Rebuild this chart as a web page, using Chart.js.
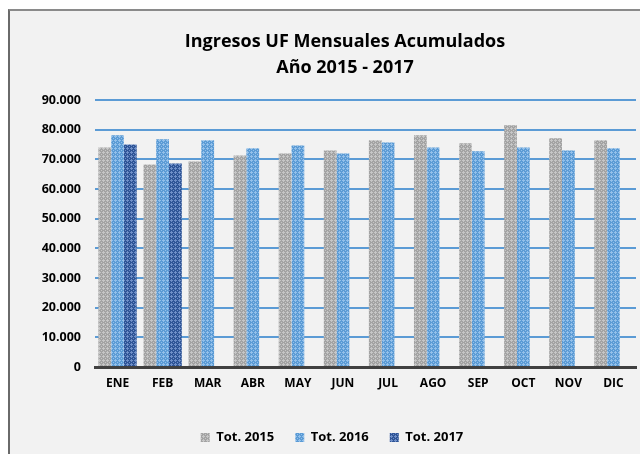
<!DOCTYPE html>
<html>
<head>
<meta charset="utf-8">
<title>Ingresos UF Mensuales Acumulados</title>
<script src="https://cdn.jsdelivr.net/npm/chart.js"></script>
<style>
  html, body { margin: 0; padding: 0; background: #ffffff; overflow: hidden; }
  .frame {
    position: absolute; left: 8px; top: 9px;
    width: 640px; height: 450px;
    border-top: 2px solid #8a8a8a; border-left: 2px solid #6a6a6a;
    background: #f2f2f2;
  }
  #chart { position: absolute; left: 0; top: 0; }
</style>
</head>
<body>
<div class="frame">
  <canvas id="chart" width="630" height="443"></canvas>
</div>
<script>
const months = ['ENE', 'FEB', 'MAR', 'ABR', 'MAY', 'JUN', 'JUL', 'AGO', 'SEP', 'OCT', 'NOV', 'DIC'];
const tot2015 = [74000, 68300, 69300, 71300, 72000, 73000, 76400, 78100, 75400, 81500, 77100, 76400];
const tot2016 = [78100, 76800, 76400, 73700, 74700, 72000, 75700, 74000, 72700, 74000, 73000, 73700];
const tot2017 = [75000, 68600, null, null, null, null, null, null, null, null, null, null];
const yTicks = [0, 10000, 20000, 30000, 40000, 50000, 60000, 70000, 80000, 90000];
const titleLines = ['Ingresos UF Mensuales Acumulados', 'Año 2015 - 2017'];

// dotted fill like the original bars
function makePattern(base, dot) {
  const c = document.createElement('canvas');
  c.width = 4; c.height = 4;
  const g = c.getContext('2d');
  g.fillStyle = base;
  g.fillRect(0, 0, 4, 4);
  g.fillStyle = dot;
  g.fillRect(1, 0, 1, 1);
  g.fillRect(0, 1, 3, 1);
  g.fillRect(1, 2, 1, 1);
  g.fillRect(3, 3, 1, 1);
  return g.createPattern(c, 'repeat');
}

const fill2015 = makePattern('#a3a3a3', '#c6c6c6');
const fill2016 = makePattern('#5b9bd5', '#93c0ea');
const fill2017 = makePattern('#2f5597', '#6f8fc8');

// title and legend sit a bit right of the canvas centre in the original
const offsetPlugin = {
  id: 'offsetTitle',
  afterLayout(chart) {
    chart.legend.left += 9;
    chart.legend.right += 9;
  },
  afterDraw(chart) {
    const ctx = chart.ctx;
    ctx.save();
    ctx.font = 'bold 18px "Open Sans", sans-serif';
    ctx.fillStyle = '#000';
    ctx.textAlign = 'center';
    ctx.textBaseline = 'middle';
    ctx.fillText(titleLines[0], 335, 31);
    ctx.fillText(titleLines[1], 335, 57);
    ctx.restore();
  }
};

new Chart(document.getElementById('chart'), {
  type: 'bar',
  data: {
    labels: months,
    datasets: [
      { label: 'Tot. 2015', data: tot2015, backgroundColor: fill2015 },
      { label: 'Tot. 2016', data: tot2016, backgroundColor: fill2016 },
      { label: 'Tot. 2017', data: tot2017, backgroundColor: fill2017 }
    ]
  },
  plugins: [offsetPlugin],
  options: {
    responsive: false,
    animation: false,
    categoryPercentage: 0.85,
    barPercentage: 1,
    layout: { padding: { left: 0, right: 4, top: 89, bottom: 0 } },
    scales: {
      x: {
        grid: { display: false },
        border: { color: '#404040', width: 3 },
        ticks: { color: '#000', font: { family: 'Open Sans, sans-serif', weight: 'bold', size: 12 }, padding: 1, maxRotation: 0, autoSkip: false },
        afterFit: s => { s.height = 43; }
      },
      y: {
        min: 0, max: 90000,
        afterBuildTicks: s => { s.ticks = yTicks.map(v => ({ value: v })); },
        afterFit: s => { s.width = 85; },
        border: { display: false },
        grid: {
          color: c => c.tick && c.tick.value === 0 ? 'rgba(0,0,0,0)' : '#5b9bd5',
          lineWidth: 2,
          drawTicks: false
        },
        ticks: {
          color: '#000', font: { family: 'Open Sans, sans-serif', weight: 'bold', size: 12.5 }, padding: 14,
          callback: v => v === 0 ? '0' : (v / 1000) + '.000'
        }
      }
    },
    plugins: {
      title: { display: false },
      legend: {
        position: 'bottom',
        labels: {
          color: '#404040',
          font: { family: 'Open Sans, sans-serif', weight: 'bold', size: 13 },
          boxWidth: 9, boxHeight: 9, padding: 21,
          generateLabels: chart => chart.data.datasets.map((d, i) => ({
            text: d.label, fillStyle: d.backgroundColor, strokeStyle: 'rgba(0,0,0,0)',
            lineWidth: 0, datasetIndex: i
          }))
        }
      },
      tooltip: { enabled: false }
    }
  }
});
</script>
</body>
</html>
